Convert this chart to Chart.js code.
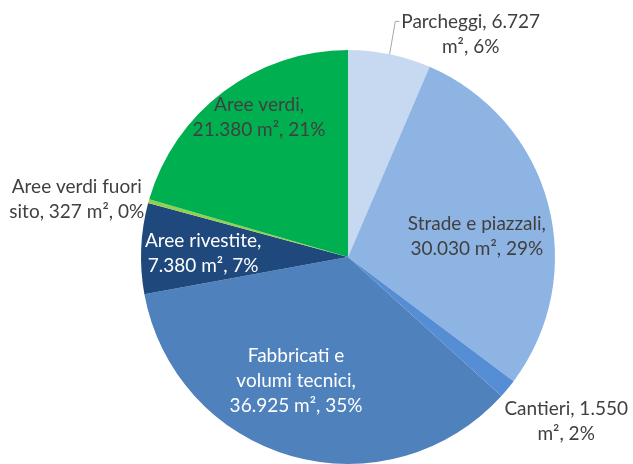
<!DOCTYPE html>
<html>
<head>
<meta charset="utf-8">
<script src="https://cdn.jsdelivr.net/npm/chart.js@4"></script>
<style>
  html, body { margin: 0; padding: 0; background: #ffffff; overflow: hidden; }
  #wrap { width: 633px; height: 464px; }
</style>
</head>
<body>
<div id="wrap"><canvas id="pieChart" width="633" height="464"></canvas></div>
<script>
// data
const categories = [
    "Parcheggi",
    "Strade e piazzali",
    "Cantieri",
    "Fabbricati e volumi tecnici",
    "Aree rivestite",
    "Aree verdi fuori sito",
    "Aree verdi"
];
const areas = [6727, 30030, 1550, 36925, 7380, 327, 21380];
const percentLabels = ["6%", "29%", "2%", "35%", "7%", "0%", "21%"];

const sliceColors = ["#c6d9f1", "#8eb4e3", "#558ed5", "#4f81bd", "#1f497d", "#92d050", "#00b050"];

// how each label is broken into lines
const labelLines = [
    ["Parcheggi, {v}", "m\u00b2, {p}"],
    ["Strade e piazzali,", "{v} m\u00b2, {p}"],
    ["Cantieri, {v}", "m\u00b2, {p}"],
    ["Fabbricati e", "volumi tecnici,", "{v} m\u00b2, {p}"],
    ["Aree rivestite,", "{v} m\u00b2, {p}"],
    ["Aree verdi fuori", "sito, {v} m\u00b2, {p}"],
    ["Aree verdi,", "{v} m\u00b2, {p}"]
];
// label placement: radius factor and angle shift (deg) from slice middle
const labelRadius = [1.23, 0.63, 1.32, 0.65, 0.70, 1.34, 0.80];
const labelShift = [17.2, 6, -2.5, 6.8, -0.8, -3.6, 4.4];
const labelColors = ["#404040", "#404040", "#404040", "#ffffff", "#ffffff", "#404040", "#404040"];

function fmt(n) {
    return String(n).replace(/\B(?=(\d{3})+(?!\d))/g, ".");
}

const pieLabels = {
    id: "pieLabels",
    afterDatasetsDraw(chart) {
        const c = chart.ctx;
        const arcs = chart.getDatasetMeta(0).data;
        c.save();
        c.font = "19px Lato";
        c.textAlign = "center";
        c.textBaseline = "middle";
        const lineH = 25;
        arcs.forEach((arc, i) => {
            const mid = (arc.startAngle + arc.endAngle) / 2;
            const a = mid + labelShift[i] * Math.PI / 180;
            const r = arc.outerRadius * labelRadius[i];
            const x = arc.x + Math.cos(a) * r;
            const y = arc.y + Math.sin(a) * r;
            const lines = labelLines[i].map(t => t.replace("{v}", fmt(areas[i])).replace("{p}", percentLabels[i]));
            const y0 = y - (lines.length - 1) * lineH / 2;
            c.fillStyle = labelColors[i];
            lines.forEach((t, k) => c.fillText(t, x, y0 + k * lineH));

            // leader line for the small top slice
            if (i === 0) {
                const w = c.measureText(lines[0]).width;
                const lx = x - w / 2 - 2;
                const ex = arc.x + Math.cos(mid) * arc.outerRadius;
                const ey = arc.y + Math.sin(mid) * arc.outerRadius;
                c.strokeStyle = "#a6a6a6";
                c.lineWidth = 1;
                c.beginPath();
                c.moveTo(ex, ey);
                c.lineTo(lx - 4, y0);
                c.lineTo(lx, y0);
                c.stroke();
            }
        });
        c.restore();
    }
};

const ctx = document.getElementById("pieChart");

new Chart(ctx, {
    type: "pie",
    data: {
        labels: categories,
        datasets: [{
            data: areas,
            backgroundColor: sliceColors,
            borderWidth: 0,
            hoverOffset: 0
        }]
    },
    options: {
        responsive: false,
        animation: false,
        layout: {
            padding: { left: 141, right: 78, top: 50, bottom: 0 }
        },
        plugins: {
            legend: { display: false },
            tooltip: { enabled: false }
        }
    },
    plugins: [pieLabels]
});
</script>
</body>
</html>
